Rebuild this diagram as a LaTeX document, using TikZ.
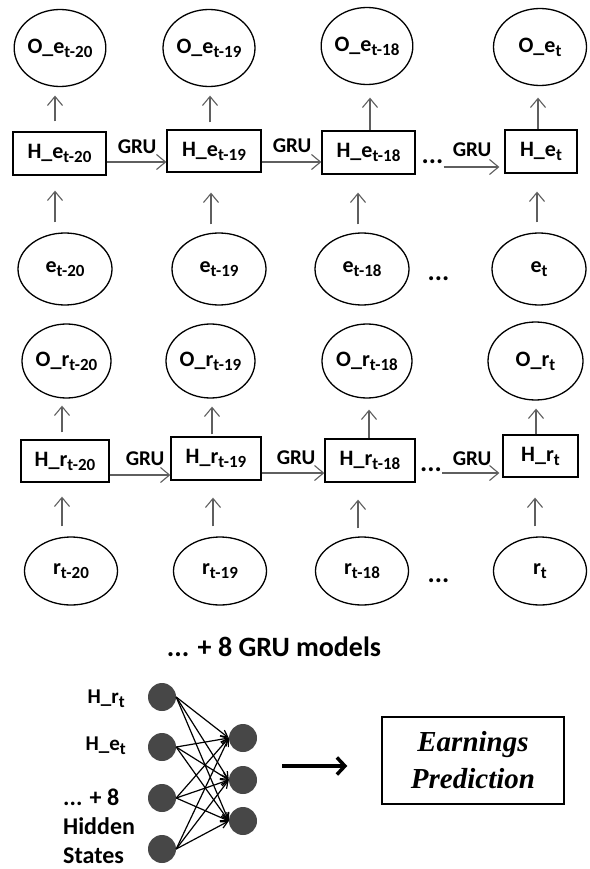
\documentclass[tikz,border=0pt]{standalone}
\usepackage{fontspec}
\setmainfont{Carlito}
\newfontfamily\serifit{Liberation Serif}
\usetikzlibrary{shapes.geometric,arrows.meta,calc}
\newcommand{\sbs}[1]{\raisebox{-4pt}{\fontsize{17}{17}\selectfont #1}}
\definecolor{arrowgray}{HTML}{5F5F5F}
\definecolor{unitgray}{HTML}{474747}
\begin{document}
\begin{tikzpicture}[x=1pt,y=-1pt,
  lbl/.style={font=\fontsize{21}{21}\selectfont\bfseries, inner sep=0pt},
  dotsl/.style={font=\fontsize{27}{27}\selectfont\bfseries, inner sep=0pt},
  oval/.style={ellipse, draw, line width=1.3pt, inner sep=0pt, font=\fontsize{22}{22}\selectfont\bfseries},
  cell/.style={rectangle, draw, line width=1.3pt, inner sep=0pt, font=\fontsize{22}{22}\selectfont\bfseries},
  flow/.style={draw=arrowgray, line width=1.1pt, -{Straight Barb[length=9pt,width=15pt]}},
  unit/.style={circle, fill=unitgray, minimum size=28pt, inner sep=0pt},
  link/.style={line width=1.2pt, -{Straight Barb[length=7pt,width=7pt]}},
  side/.style={font=\fontsize{24}{24}\selectfont\bfseries, inner sep=0pt, anchor=base west},
]
\useasboundingbox (0,0) rectangle (589,869);

% ---------- earnings GRU chain ----------
\node[oval, minimum width=91pt, minimum height=77pt] (Oe1) at (60,48) {O\_e\sbs{t-20}};
\node[oval, minimum width=92pt, minimum height=77pt] (Oe2) at (209,48) {O\_e\sbs{t-19}};
\node[oval, minimum width=91pt, minimum height=77pt] (Oe3) at (367,46) {O\_e\sbs{t-18}};
\node[oval, minimum width=93pt, minimum height=77pt] (Oe4) at (540,47) {O\_e\sbs{t}};

\node[cell, minimum width=93pt, minimum height=43pt] (He1) at (59.5,153.5) {H\_e\sbs{t-20}};
\node[cell, minimum width=94pt, minimum height=42pt] (He2) at (214,151) {H\_e\sbs{t-19}};
\node[cell, minimum width=93pt, minimum height=43pt] (He3) at (368.5,152.5) {H\_e\sbs{t-18}};
\node[cell, minimum width=72pt, minimum height=43pt] (He4) at (541,151.5) {H\_e\sbs{t}};

\node[oval, minimum width=94pt, minimum height=72pt] (e1) at (65,269) {e\sbs{t-20}};
\node[oval, minimum width=94pt, minimum height=72pt] (e2) at (219,269) {e\sbs{t-19}};
\node[oval, minimum width=94pt, minimum height=72pt] (e3) at (362,269) {e\sbs{t-18}};
\node[oval, minimum width=94pt, minimum height=72pt] (e4) at (539,269) {e\sbs{t}};

\node[dotsl] (dHe) at (432.5,162) {...};
\node[dotsl] (de) at (438.5,279) {...};

\node[lbl] (gru1) at (137,147) {GRU};
\node[lbl] (gru2) at (292,146) {GRU};
\node[lbl] (gru3) at (472,150) {GRU};

% outputs
\draw[flow, shorten <=10pt, shorten >=8.5pt] ([xshift=-4.5pt]He1.north) -- ([xshift=-4.5pt]He1.north |- Oe1.south);
\draw[flow, shorten <=7pt, shorten >=8.5pt] ([xshift=-4pt]He2.north) -- ([xshift=-4pt]He2.north |- Oe2.south);
\draw[flow, shorten >=12.5pt] ([xshift=1.5pt]He3.north) -- ([xshift=1.5pt]He3.north |- Oe3.south);
\draw[flow, shorten >=11.5pt] ([xshift=-3pt]He4.north) -- ([xshift=-3pt]He4.north |- Oe4.south);
% inputs
\draw[flow, shorten <=10pt, shorten >=15pt] ([xshift=-10pt]e1.north) -- ([xshift=-10pt]e1.north |- He1.south);
\draw[flow, shorten <=8pt, shorten >=20pt] ([xshift=-8pt]e2.north) -- ([xshift=-8pt]e2.north |- He2.south);
\draw[flow, shorten <=8pt, shorten >=18pt] ([xshift=-4pt]e3.north) -- ([xshift=-4pt]e3.north |- He3.south);
\draw[flow, shorten <=10pt, shorten >=18pt] ([xshift=-2pt]e4.north) -- ([xshift=-2pt]e4.north |- He4.south);
% recurrence
\draw[flow] ([yshift=-8.5pt]He1.east) -- ([yshift=-8.5pt]He1.east -| He2.west);
\draw[flow] ([yshift=-11pt]He2.east) -- ([yshift=-11pt]He2.east -| He3.west);
\draw[flow, shorten >=5pt] ([yshift=-5pt]dHe.east) -- ([yshift=-5pt]dHe.east -| He4.west);

% ---------- returns GRU chain ----------
\node[oval, minimum width=89pt, minimum height=74pt] (Or1) at (66.5,361) {O\_r\sbs{t-20}};
\node[oval, minimum width=89pt, minimum height=74pt] (Or2) at (210.5,361) {O\_r\sbs{t-19}};
\node[oval, minimum width=90pt, minimum height=74pt] (Or3) at (367,361) {O\_r\sbs{t-18}};
\node[oval, minimum width=95pt, minimum height=78pt] (Or4) at (535.5,361) {O\_r\sbs{t}};

\node[cell, minimum width=88pt, minimum height=42pt] (Hr1) at (65,461) {H\_r\sbs{t-20}};
\node[cell, minimum width=90pt, minimum height=43pt] (Hr2) at (216,458.5) {H\_r\sbs{t-19}};
\node[cell, minimum width=90pt, minimum height=43pt] (Hr3) at (370,460.5) {H\_r\sbs{t-18}};
\node[cell, minimum width=75pt, minimum height=42pt] (Hr4) at (540.5,456) {H\_r\sbs{t}};

\node[oval, minimum width=93pt, minimum height=68pt] (r1) at (71,571) {r\sbs{t-20}};
\node[oval, minimum width=93pt, minimum height=68pt] (r2) at (220,571) {r\sbs{t-19}};
\node[oval, minimum width=93pt, minimum height=68pt] (r3) at (362,571) {r\sbs{t-18}};
\node[oval, minimum width=93pt, minimum height=68pt] (r4) at (540,571) {r\sbs{t}};

\node[dotsl] (dHr) at (431,470) {...};
\node[dotsl] (dr) at (438.5,581) {...};

\node[lbl] (gru4) at (145,459) {GRU};
\node[lbl] (gru5) at (296,458) {GRU};
\node[lbl] (gru6) at (472,459) {GRU};

\draw[flow, shorten <=7pt, shorten >=7pt] ([xshift=-3pt]Hr1.north) -- ([xshift=-3pt]Hr1.north |- Or1.south);
\draw[flow, shorten <=2pt, shorten >=8pt] ([xshift=-4pt]Hr2.north) -- ([xshift=-4pt]Hr2.north |- Or2.south);
\draw[flow, shorten >=11pt] ([xshift=-1pt]Hr3.north) -- ([xshift=-1pt]Hr3.north |- Or3.south);
\draw[flow, shorten >=8pt] ([xshift=-4.5pt]Hr4.north) -- ([xshift=-4.5pt]Hr4.north |- Or4.south);

\draw[flow, shorten <=10pt, shorten >=14pt] ([xshift=-9pt]r1.north) -- ([xshift=-9pt]r1.north |- Hr1.south);
\draw[flow, shorten <=10pt, shorten >=17pt] ([xshift=-7pt]r2.north) -- ([xshift=-7pt]r2.north |- Hr2.south);
\draw[flow, shorten <=8pt, shorten >=17pt] ([xshift=-4pt]r3.north) -- ([xshift=-4pt]r3.north |- Hr3.south);
\draw[flow, shorten <=10pt, shorten >=20pt] ([xshift=-5pt]r4.north) -- ([xshift=-5pt]r4.north |- Hr4.south);

\draw[flow] ([yshift=-14pt]Hr1.east) -- ([yshift=-14pt]Hr1.east -| Hr2.west);
\draw[flow] ([yshift=-14.5pt]Hr2.east) -- ([yshift=-14.5pt]Hr2.east -| Hr3.west);
\draw[flow, shorten >=3pt] ([yshift=-3pt]dHr.east) -- ([yshift=-3pt]dHr.east -| Hr4.west);

% ---------- combining network ----------
\node[font=\fontsize{28}{28}\selectfont\bfseries, inner sep=0pt] (models) at (274,647) {... + 8 GRU models};

\node[unit] (L1) at (162,697) {};
\node[unit] (L2) at (162,747) {};
\node[unit] (L3) at (162,798) {};
\node[unit] (L4) at (162,849) {};
\node[unit] (R1) at (243,738) {};
\node[unit] (R2) at (243,780) {};
\node[unit] (R3) at (243,821) {};

\foreach \i in {1,...,4}{
  \foreach \j in {1,2,3}{
    \draw[link] (L\i.east) -- (R\j.west);
  }
}

\node[lbl, anchor=base east] (inr) at (125,703) {H\_r\sbs{t}};
\node[lbl, anchor=base east] (ine) at (126,750) {H\_e\sbs{t}};
\node[side] (more1) at (63,805) {... + 8};
\node[side] (more2) at (63,834) {Hidden};
\node[side] (more3) at (63,863) {States};

\node[draw, line width=1.4pt, minimum width=182pt, minimum height=87pt, align=center,
      font=\serifit\bfseries\itshape\fontsize{29}{37}\selectfont] (pred) at (473,760.5) {Earnings\\Prediction};

\coordinate (bigstart) at (282,766);
\draw[line width=3.5pt, -{Straight Barb[length=8pt,width=17pt]}, shorten >=34pt] (bigstart) -- (bigstart -| pred.west);
\end{tikzpicture}
\end{document}
